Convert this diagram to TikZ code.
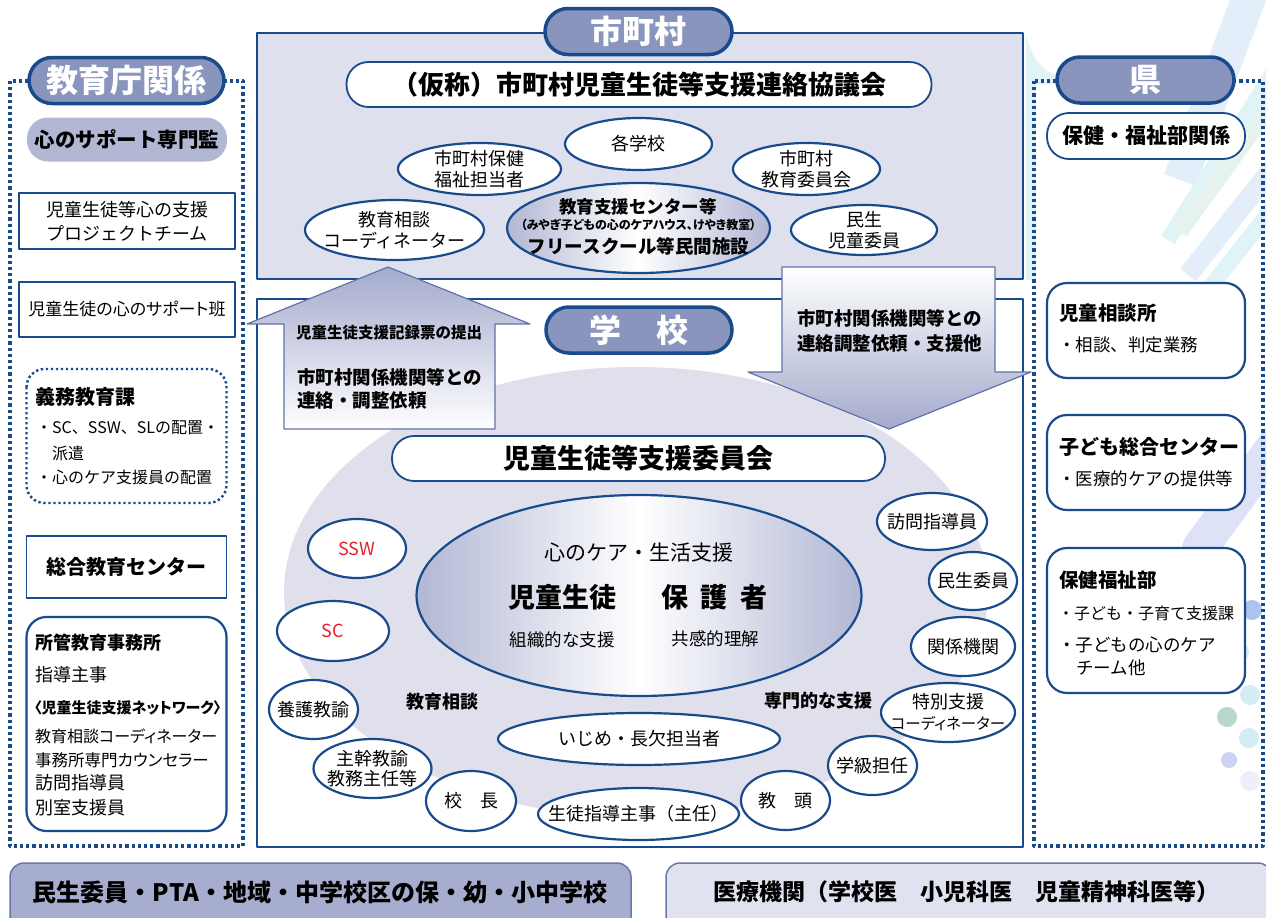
\documentclass[tikz,border=0pt]{standalone}
\usepackage{fontspec}
\setmainfont{Noto Sans CJK JP}
\newfontfamily\pf{Noto Sans CJK JP}[RawFeature=+palt]
\usetikzlibrary{shapes.geometric}
\definecolor{frameblue}{RGB}{25,75,140}
\definecolor{tabfill}{RGB}{138,149,189}
\definecolor{muniback}{RGB}{222,224,237}
\definecolor{ovalback}{RGB}{223,224,236}
\definecolor{softblue}{RGB}{178,183,212}
\definecolor{arrowfill}{RGB}{163,170,204}
\definecolor{arrowline}{RGB}{98,114,168}
\definecolor{barfill}{RGB}{167,173,206}
\definecolor{barlight}{RGB}{224,226,239}
\definecolor{barline}{RGB}{105,120,172}
\definecolor{sswred}{RGB}{232,30,45}
\definecolor{decoblue}{RGB}{228,237,250}
\definecolor{decocyan}{RGB}{224,244,248}
\definecolor{decogreen}{RGB}{230,242,238}
\definecolor{decolav}{RGB}{222,226,247}
\definecolor{dotblue}{RGB}{170,196,240}
\definecolor{dotmint}{RGB}{214,236,240}
\definecolor{dotcyan}{RGB}{212,236,243}
\definecolor{dotgreen}{RGB}{183,216,203}
\definecolor{dotlav}{RGB}{206,210,243}
\definecolor{dotpale}{RGB}{236,238,251}
\newcommand{\fs}[2]{\fontsize{#1}{#2}\selectfont}
\tikzset{
  tab/.style={rectangle, rounded corners=23pt, draw=frameblue, line width=3.5pt, fill=tabfill,
    text=white, font=\fs{32}{36}\bfseries, minimum height=46pt, inner sep=0pt},
  pillbox/.style={rectangle, rounded corners=22pt, draw=frameblue, line width=1.8pt, fill=white,
    inner sep=0pt, minimum height=45pt},
  ell/.style={ellipse, draw=frameblue, line width=2.2pt, fill=white, inner xsep=-150pt,
    inner ysep=-60pt, align=center, font=\fs{18}{21}},
  plainbox/.style={rectangle, draw=frameblue, line width=1.8pt, fill=white, inner sep=0pt, align=center},
  roundbox/.style={rectangle, draw=frameblue, line width=2.2pt, fill=white, rounded corners=20pt, inner sep=0pt},
  dotbox/.style={draw=frameblue, line width=3.2pt, dash pattern=on 3.2pt off 3pt},
  txt/.style={inner sep=0pt},
  upshade/.style={draw=arrowline, line width=1.2pt, top color=arrowfill, bottom color=white},
  downshade/.style={draw=arrowline, line width=1.2pt, top color=white, bottom color=arrowfill},
  bar/.style={draw=barline, line width=1.5pt, rounded corners=14pt},
  stripe/.style={line width=#1, line cap=butt},
}
\begin{document}
\begin{tikzpicture}[x=1pt, y=-1pt, line join=round, font=\fs{18}{21}]
	\useasboundingbox (0,0) rectangle (1266,918);
	\begin{scope}
		\clip (1026,0) rectangle (1266,918);
		\draw[stripe=34pt, decoblue] (1180,180) -- (1252,-10);
		\draw[stripe=16pt, decocyan] (1168,240) -- (1275,70);
		\draw[stripe=16pt, decogreen] (1180,232) -- (1275,100);
		\draw[stripe=20pt, decoblue] (1188,275) -- (1275,165);
		\draw[stripe=16pt, decocyan] (1200,300) -- (1275,205);
		\draw[stripe=36pt, decolav, line cap=round] (1200,548) -- (1290,425);
		\fill[decocyan] (1025,32) .. controls (1034,62) and (1042,74) .. (1064,76) -- (1064,84) -- (1036,84) -- (1036,280) -- (1025,280) -- cycle;
	\end{scope}
	\fill[dotblue] (1252,610) circle (10pt);
	\fill[decocyan] (1230,631) circle (9pt);
	\fill[dotmint] (1240,652) circle (9pt);
	\fill[decolav] (1229,673) circle (10pt);
	\fill[dotcyan] (1250,695) circle (10pt);
	\fill[dotgreen] (1227,717) circle (10pt);
	\fill[dotcyan] (1249,738) circle (10pt);
	\fill[dotlav] (1229,760) circle (8pt);
	\fill[dotpale] (1250,781) circle (10pt);
	\draw[dotbox] (10,81) rectangle (243,846);
	\draw[dotbox] (1034,81) rectangle (1263,846);
	\draw[frameblue, line width=2.6pt, fill=muniback] (257,33) rectangle (1023,279);
	\draw[frameblue, line width=2.6pt, fill=white] (257,299) rectangle (1023,847);
	\fill[ovalback] (636,592) ellipse [x radius=352pt, y radius=225pt];
	\shadedraw[upshade] (284,429) -- (284,324) -- (247,324) -- (388,267) -- (530,324) -- (495,324) -- (495,429) -- cycle;
	\shadedraw[downshade] (782,267) -- (782,372) -- (748,372) -- (889,429) -- (1031,372) -- (995,372) -- (995,267) -- cycle;
	\node[txt, font=\fs{15.5}{18}\bfseries] (record) at (389,333) {児童生徒支援記録票の提出};
	\node[txt, anchor=west, align=left, font=\fs{18.5}{23}\bfseries] (liaison up) at (297,388.5) {市町村関係機関等との\\連絡・調整依頼};
	\node[txt, align=left, font=\fs{18.5}{25}\bfseries] (liaison down) at (889.5,330.5) {市町村関係機関等との\\連絡調整依頼・支援他};
	\node[tab, minimum width=187pt] (muni tab) at (638.5,31.5) {市町村};
	\node[tab, minimum width=186pt] (school tab) at (639,330) {学\hspace{1.1em}校};
	\node[tab, minimum width=195pt] (edu tab) at (126.5,80.5) {教育庁関係};
	\node[tab, minimum width=177pt] (pref tab) at (1145.5,80) {県};
	\node[pillbox, minimum width=585pt, font=\fs{26}{30}\bfseries] (council) at (639,84.5) {（仮称）市町村児童生徒等支援連絡協議会};
	\node[ell, minimum width=147pt, minimum height=52pt] (schools) at (638.5,144) {各学校};
	\node[ell, minimum width=163pt, minimum height=52pt] (welfare staff) at (479.5,169) {市町村保健\\福祉担当者};
	\node[ell, minimum width=147pt, minimum height=52pt] (board) at (806.5,169) {市町村\\教育委員会};
	\node[ell, minimum width=179pt, minimum height=60pt] (coord muni) at (394.5,230) {教育相談\\コーディネーター};
	\node[ell, minimum width=146pt, minimum height=50pt] (welfare cmte) at (864,230) {民生\\児童委員};
	\node[ell, minimum width=263pt, minimum height=90pt, left color=softblue, right color=softblue, middle color=white] (support center) at (638.5,228) {};
	\node[txt, font=\fs{17.5}{20}\bfseries] (center name) at (638,207) {教育支援センター等};
	\node[txt, font=\pf\fs{12}{14}\bfseries] (center note) at (638.5,225) {（みやぎ子どもの心のケアハウス、けやき教室）};
	\node[txt, font=\fs{18.5}{21}\bfseries] (free school) at (638.5,246) {フリースクール等民間施設};
	\node[pillbox, minimum width=493pt, font=\fs{27}{30}\bfseries] (committee) at (638.5,458.5) {児童生徒等支援委員会};
	\node[ellipse, draw=frameblue, line width=2.2pt, inner sep=0pt, minimum width=445pt, minimum height=201pt, left color=softblue, right color=softblue, middle color=white] (core) at (639,595.5) {};
	\node[txt, font=\fs{21}{24}] (care) at (638.5,553) {心のケア・生活支援};
	\node[txt, font=\fs{27}{30}\bfseries] (pupils) at (562,597) {児童生徒};
	\node[txt, font=\fs{27}{30}\bfseries] (guardians) at (714.5,597) {保\hspace{0.45em}護\hspace{0.45em}者};
	\node[txt, font=\fs{17.5}{20}] (org support) at (562,640) {組織的な支援};
	\node[txt, font=\fs{17.5}{20}] (empathy) at (715.5,639) {共感的理解};
	\node[txt, font=\fs{18}{20}\bfseries] (counsel label) at (442,702) {教育相談};
	\node[txt, font=\fs{18}{20}\bfseries] (expert label) at (818.5,700.5) {専門的な支援};
	\node[ell, minimum width=98pt, minimum height=59pt, text=sswred] (ssw) at (357,548.5) {SSW};
	\node[ell, minimum width=112pt, minimum height=60pt, text=sswred] (sc) at (333,631) {SC};
	\node[ell, minimum width=89pt, minimum height=59pt] (nurse) at (313.5,709.5) {養護教諭};
	\node[ell, minimum width=118pt, minimum height=59pt, font=\fs{18}{20}] (chief) at (372.5,768.5) {主幹教諭\\教務主任等};
	\node[ell, minimum width=90pt, minimum height=60pt] (principal) at (471,801) {校\hspace{1em}長};
	\node[ell, minimum width=282pt, minimum height=52pt] (bullying) at (639,739) {いじめ・長欠担当者};
	\node[ell, minimum width=201pt, minimum height=52pt] (guidance) at (638.5,814) {生徒指導主事（主任）};
	\node[ell, minimum width=89pt, minimum height=59pt] (vice) at (785.5,800.5) {教\hspace{1em}頭};
	\node[ell, minimum width=89pt, minimum height=59pt] (homeroom) at (872.5,765.5) {学級担任};
	\node[ell, minimum width=134pt, minimum height=59pt] (special) at (948,712.5) {特別支援\\{\pf\fs{15.5}{21}コーディネーター}};
	\node[ell, minimum width=104pt, minimum height=59pt] (agencies) at (963,646.5) {関係機関};
	\node[ell, minimum width=88pt, minimum height=58pt] (welfare member) at (973,581) {民生委員};
	\node[ell, minimum width=110pt, minimum height=57pt] (visitor) at (932,521.5) {訪問指導員};
	\node[rectangle, rounded corners=21pt, fill=softblue, minimum width=200pt, minimum height=44pt, inner sep=0pt, font=\fs{20.5}{24}\bfseries] (kokoro chief) at (127,139.5) {心のサポート専門監};
	\node[plainbox, minimum width=216pt, minimum height=56pt, font=\fs{18}{24}] (project) at (127,221) {児童生徒等心の支援\\プロジェクトチーム};
	\node[plainbox, minimum width=216pt, minimum height=55pt, font=\pf\fs{17}{21}] (support team) at (127,309.5) {児童生徒の心のサポート班};
	\draw[dotbox, line width=2.4pt, dash pattern=on 2.4pt off 2.6pt, rounded corners=18pt] (26.5,369) rectangle (226.5,503);
	\node[txt, anchor=west, font=\fs{20}{22}\bfseries] (compulsory) at (35,397) {義務教育課};
	\node[txt, anchor=west, font=\fs{16}{18}] (compulsory a) at (36,428) {・SC、SSW、SLの配置・};
	\node[txt, anchor=west, font=\fs{16}{18}] (compulsory b) at (52,453) {派遣};
	\node[txt, anchor=west, font=\fs{16}{18}] (compulsory c) at (36,477) {・心のケア支援員の配置};
	\node[plainbox, minimum width=200pt, minimum height=62pt, font=\fs{20}{22}\bfseries] (edu center) at (126.5,567) {総合教育センター};
	\node[roundbox, minimum width=200pt, minimum height=214pt] (office) at (126.5,724) {};
	\node[txt, anchor=west, font=\fs{18}{20}\bfseries] (office title) at (35,643) {所管教育事務所};
	\node[txt, anchor=west, font=\fs{18}{20}] (office a) at (35,675) {指導主事};
	\node[txt, anchor=west, font=\pf\fs{15}{20}\bfseries] (office b) at (34,708) {〈児童生徒支援ネットワーク〉};
	\node[txt, anchor=west, font=\pf\fs{16}{20}] (office c) at (35,736) {教育相談コーディネーター};
	\node[txt, anchor=west, font=\pf\fs{16.5}{20}] (office d) at (35,760) {事務所専門カウンセラー};
	\node[txt, anchor=west, font=\fs{18}{20}] (office e) at (35,783) {訪問指導員};
	\node[txt, anchor=west, font=\fs{18}{20}] (office f) at (35,808) {別室支援員};
	\node[pillbox, minimum width=198pt, minimum height=46pt, font=\fs{21}{24}\bfseries] (health dept) at (1146,136) {保健・福祉部関係};
	\node[roundbox, minimum width=198pt, minimum height=95pt] (child guidance) at (1146,330.5) {};
	\node[txt, anchor=west, font=\fs{19.5}{22}\bfseries] (child guidance title) at (1059,313) {児童相談所};
	\node[txt, anchor=west, font=\fs{17.5}{20}] (child guidance note) at (1058,345) {・相談、判定業務};
	\node[roundbox, minimum width=198pt, minimum height=95pt] (kids center) at (1146,462.5) {};
	\node[txt, anchor=west, font=\fs{20}{22}\bfseries] (kids center title) at (1059,447) {子ども総合センター};
	\node[txt, anchor=west, font=\fs{17.5}{20}] (kids center note) at (1058,479) {・医療的ケアの提供等};
	\node[roundbox, minimum width=198pt, minimum height=145pt] (welfare dept) at (1146,620.5) {};
	\node[txt, anchor=west, font=\fs{19.5}{22}\bfseries] (welfare dept title) at (1059,580) {保健福祉部};
	\node[txt, anchor=west, font=\fs{16}{20}] (welfare dept a) at (1058,613) {・子ども・子育て支援課};
	\node[txt, anchor=west, font=\fs{17.5}{20}] (welfare dept b) at (1058,645) {・子どもの心のケア};
	\node[txt, anchor=west, font=\fs{17.5}{20}] (welfare dept c) at (1076,668) {チーム他};
	\draw[bar, fill=barfill] (10,863) rectangle (631,935);
	\draw[bar, fill=barlight] (666,863) rectangle (1272,935);
	\node[txt, font=\fs{24}{26}\bfseries] (community) at (320,892) {民生委員・PTA・地域・中学校区の保・幼・小中学校};
	\node[txt, font=\fs{23}{26}\bfseries] (medical) at (966,892) {医療機関（学校医\hspace{1em}小児科医\hspace{1em}児童精神科医等）};
\end{tikzpicture}
\end{document}
